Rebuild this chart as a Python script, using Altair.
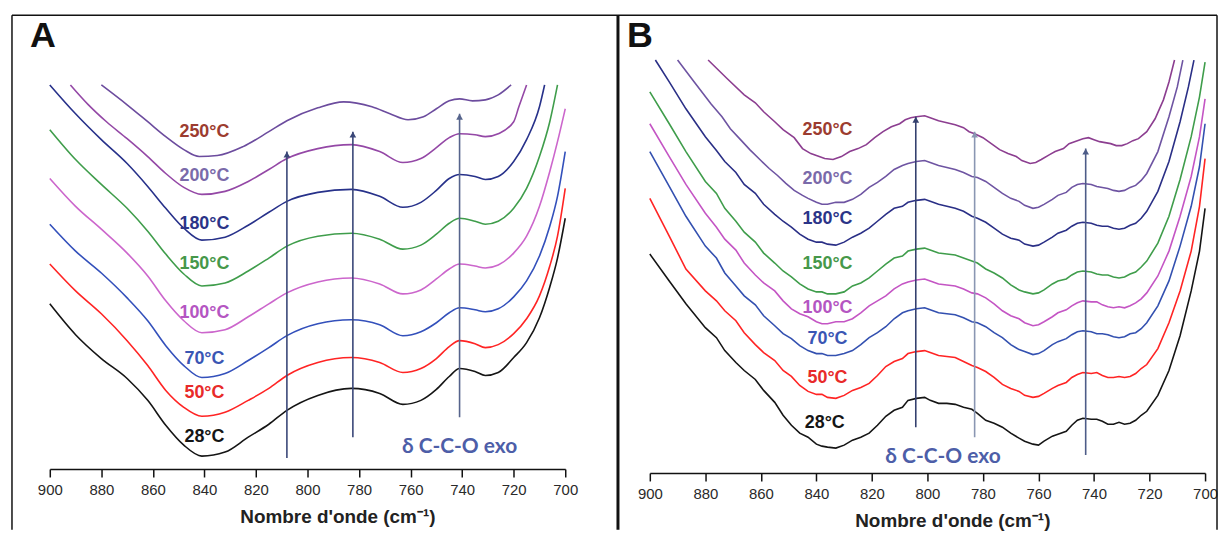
import altair as alt
import pandas as pd

# ---------------- data (wavenumber cm-1, absorbance a.u.) ----------------
temps = ["28°C", "50°C", "70°C", "100°C", "150°C", "180°C", "200°C", "250°C"]

A_line_colors = ["#151515", "#ff2424", "#3350bb", "#cc66cc", "#3f9d4b", "#27318a", "#9448a6", "#6c4c9e"]
B_line_colors = ["#151515", "#ff2424", "#3350b0", "#c455c4", "#3f9d4b", "#2a2f86", "#6e54a2", "#8c3e90"]
label_colors = ["#151515", "#e82a2a", "#3a56b4", "#b455c2", "#46984a", "#2b3488", "#7a6aaa", "#9c3c30"]

# Panel A
A_28 = [(900,1.66),(890,1.35),(880,1.11),(870,0.91),(862,0.69),(855,0.44),(848,0.24),(841,0.13),(832,0.17),(823,0.32),(815,0.45),(808,0.59),(796,0.74),(783,0.81),(772,0.76),(763,0.65),(756,0.69),(750,0.80),(745,0.93),(741,1.01),(735,0.98),(731,0.94),(726,0.97),(720,1.12),(715,1.27),(710,1.52),(706,1.83),(703,2.12),(700,2.52)]
A_50 = [(900,2.06),(890,1.79),(880,1.56),(870,1.29),(862,1.04),(855,0.79),(848,0.62),(841,0.53),(832,0.57),(823,0.69),(815,0.81),(808,0.94),(796,1.07),(783,1.12),(772,1.07),(763,0.97),(756,1.01),(750,1.11),(745,1.23),(741,1.29),(735,1.26),(731,1.22),(726,1.25),(720,1.36),(715,1.51),(710,1.74),(706,2.04),(703,2.34),(700,2.82)]
A_70 = [(900,2.46),(890,2.19),(880,1.97),(870,1.72),(862,1.49),(855,1.24),(848,1.04),(841,0.92),(832,0.96),(823,1.09),(815,1.22),(808,1.34),(796,1.46),(783,1.50),(772,1.45),(763,1.34),(756,1.38),(750,1.47),(745,1.57),(741,1.62),(735,1.60),(731,1.58),(726,1.61),(720,1.73),(715,1.89),(710,2.14),(706,2.44),(703,2.74),(700,3.19)]
A_100 = [(900,2.92),(890,2.64),(880,2.41),(870,2.17),(862,1.94),(855,1.69),(848,1.49),(841,1.37),(832,1.40),(823,1.53),(815,1.66),(808,1.77),(796,1.88),(783,1.92),(772,1.86),(763,1.76),(756,1.80),(750,1.91),(745,2.01),(741,2.06),(735,2.04),(731,2.02),(726,2.05),(720,2.17),(715,2.34),(710,2.64),(706,2.99),(703,3.29),(700,3.62)]
A_150 = [(900,3.41),(890,3.11),(880,2.86),(870,2.62),(862,2.39),(855,2.16),(848,1.96),(841,1.84),(832,1.87),(823,1.99),(815,2.12),(808,2.24),(796,2.34),(783,2.37),(772,2.31),(763,2.21),(756,2.25),(750,2.36),(745,2.47),(741,2.52),(735,2.49),(731,2.46),(726,2.49),(720,2.62),(715,2.82),(710,3.14),(706,3.49),(703,3.86)]
A_180 = [(900,3.86),(890,3.57),(880,3.31),(870,3.07),(862,2.84),(855,2.62),(848,2.42),(841,2.30),(832,2.33),(823,2.45),(815,2.58),(808,2.69),(796,2.78),(783,2.81),(772,2.74),(763,2.63),(756,2.68),(750,2.80),(745,2.92),(741,2.96),(735,2.94),(731,2.91),(726,2.94),(720,3.09),(715,3.31),(710,3.64),(708,3.86)]
A_200 = [(892,3.86),(885,3.66),(878,3.49),(870,3.32),(862,3.14),(855,2.97),(848,2.83),(841,2.76),(832,2.79),(823,2.89),(815,3.01),(808,3.12),(796,3.22),(783,3.26),(772,3.19),(763,3.08),(756,3.12),(750,3.23),(745,3.33),(741,3.37),(735,3.36),(731,3.34),(726,3.37),(720,3.49),(718,3.64),(715,3.86)]
A_250 = [(880,3.86),(870,3.66),(862,3.49),(855,3.34),(848,3.21),(842,3.14),(835,3.15),(825,3.24),(815,3.39),(808,3.50),(796,3.63),(786,3.69),(775,3.64),(768,3.57),(761,3.51),(755,3.54),(750,3.62),(745,3.70),(741,3.72),(736,3.70),(731,3.71),(726,3.76),(721,3.86)]

# Panel B (noisy spectra)
B_28 = [(900,2.20),(893,1.93),(887,1.70),(880,1.46),(876,1.36),(873,1.23),(869,1.11),(866,1.03),(862,0.94),(859,0.83),(855,0.71),(852,0.58),(849,0.48),(846,0.40),(843,0.36),(840,0.29),(838,0.27),(836,0.26),(833,0.25),(830,0.28),(827,0.33),(824,0.36),(821,0.40),(818,0.48),(815,0.57),(812,0.63),(809,0.66),(807,0.73),(804,0.75),(801,0.76),(799,0.73),(796,0.70),(793,0.70),(790,0.69),(787,0.66),(784,0.64),(782,0.60),(779,0.53),(776,0.50),(773,0.46),(770,0.40),(767,0.35),(765,0.32),(762,0.29),(760,0.28),(758,0.32),(755,0.37),(753,0.39),(750,0.42),(748,0.48),(746,0.53),(744,0.55),(741,0.54),(739,0.54),(737,0.52),(735,0.49),(733,0.49),(731,0.51),(729,0.49),(727,0.50),(725,0.53),(723,0.58),(721,0.62),(717,0.78),(713,1.03),(709,1.38),(705,1.83),(702,2.23),(700,2.66)]
B_50 = [(900,2.76),(893,2.38),(887,2.05),(880,1.83),(876,1.73),(873,1.63),(869,1.53),(866,1.41),(862,1.29),(859,1.21),(855,1.13),(852,1.03),(849,0.97),(846,0.88),(843,0.82),(840,0.79),(838,0.79),(836,0.76),(833,0.75),(830,0.78),(827,0.83),(824,0.86),(821,0.90),(818,0.98),(815,1.07),(812,1.12),(809,1.15),(807,1.20),(804,1.22),(801,1.23),(799,1.21),(796,1.18),(793,1.17),(790,1.16),(787,1.12),(784,1.08),(782,1.06),(779,1.02),(776,0.96),(773,0.89),(770,0.85),(767,0.82),(765,0.78),(762,0.76),(760,0.77),(758,0.80),(755,0.85),(753,0.88),(750,0.91),(748,0.96),(746,0.99),(744,1.01),(741,1.00),(739,1.01),(737,0.98),(735,0.96),(733,0.96),(731,0.97),(729,0.96),(727,0.97),(725,1.00),(723,1.05),(721,1.09),(717,1.25),(713,1.51),(709,1.83),(705,2.23),(702,2.68),(700,3.16)]
B_70 = [(900,3.23),(893,2.88),(887,2.58),(880,2.28),(876,2.16),(873,2.01),(869,1.88),(866,1.78),(862,1.69),(859,1.58),(855,1.48),(852,1.40),(849,1.35),(846,1.28),(843,1.23),(840,1.20),(838,1.20),(836,1.18),(833,1.18),(830,1.20),(827,1.23),(824,1.29),(821,1.36),(818,1.41),(815,1.47),(812,1.55),(809,1.61),(807,1.63),(804,1.65),(801,1.66),(799,1.64),(796,1.61),(793,1.60),(790,1.59),(787,1.56),(784,1.52),(782,1.51),(779,1.47),(776,1.41),(773,1.36),(770,1.29),(767,1.24),(765,1.22),(762,1.19),(760,1.20),(758,1.23),(755,1.29),(753,1.32),(750,1.35),(748,1.39),(746,1.42),(744,1.43),(741,1.42),(739,1.40),(737,1.40),(735,1.39),(733,1.37),(731,1.36),(729,1.37),(727,1.40),(725,1.41),(723,1.45),(721,1.51),(717,1.68),(713,1.93),(709,2.28),(705,2.68),(702,3.08),(700,3.51)]
B_100 = [(900,3.51),(893,3.18),(887,2.90),(880,2.61),(876,2.47),(873,2.35),(869,2.24),(866,2.11),(862,1.99),(859,1.91),(855,1.83),(852,1.73),(849,1.65),(846,1.60),(843,1.57),(840,1.52),(838,1.50),(836,1.50),(833,1.52),(830,1.52),(827,1.55),(824,1.61),(821,1.68),(818,1.73),(815,1.78),(812,1.85),(809,1.90),(807,1.92),(804,1.94),(801,1.95),(799,1.93),(796,1.90),(793,1.89),(790,1.88),(787,1.85),(784,1.81),(782,1.80),(779,1.76),(776,1.70),(773,1.63),(770,1.58),(767,1.55),(765,1.51),(762,1.48),(760,1.49),(758,1.52),(755,1.57),(753,1.61),(750,1.64),(748,1.68),(746,1.71),(744,1.73),(741,1.72),(739,1.72),(737,1.69),(735,1.67),(733,1.66),(731,1.67),(729,1.66),(727,1.68),(725,1.71),(723,1.75),(721,1.81),(717,1.98),(713,2.23),(709,2.58),(705,2.98),(702,3.38),(700,3.76)]
B_150 = [(900,3.83),(893,3.51),(887,3.23),(880,2.93),(876,2.81),(873,2.66),(869,2.53),(866,2.42),(862,2.32),(859,2.21),(855,2.11),(852,2.03),(849,1.97),(846,1.90),(843,1.85),(840,1.82),(838,1.82),(836,1.80),(833,1.80),(830,1.82),(827,1.88),(824,1.91),(821,1.96),(818,2.03),(815,2.10),(812,2.16),(809,2.18),(807,2.23),(804,2.25),(801,2.26),(799,2.24),(796,2.21),(793,2.20),(790,2.19),(787,2.16),(784,2.13),(782,2.11),(779,2.05),(776,2.01),(773,1.96),(770,1.89),(767,1.84),(765,1.82),(762,1.80),(760,1.81),(758,1.84),(755,1.90),(753,1.93),(750,1.95),(748,1.99),(746,2.02),(744,2.03),(741,2.02),(739,2.00),(737,1.99),(735,1.99),(733,1.97),(731,1.96),(729,1.97),(727,2.00),(725,2.02),(723,2.07),(721,2.13),(717,2.31),(713,2.58),(709,2.95),(705,3.38),(702,3.78),(700,4.13)]
B_180 = [(898,4.15),(893,3.93),(887,3.66),(880,3.38),(876,3.24),(873,3.13),(869,3.02),(866,2.90),(862,2.81),(859,2.70),(855,2.60),(852,2.53),(849,2.47),(846,2.40),(843,2.35),(840,2.32),(838,2.32),(836,2.30),(833,2.29),(830,2.32),(827,2.37),(824,2.41),(821,2.46),(818,2.53),(815,2.60),(812,2.66),(809,2.68),(807,2.72),(804,2.74),(801,2.75),(799,2.73),(796,2.70),(793,2.68),(790,2.66),(787,2.63),(784,2.58),(782,2.56),(779,2.52),(776,2.46),(773,2.40),(770,2.36),(767,2.34),(765,2.30),(762,2.28),(760,2.29),(758,2.32),(755,2.37),(753,2.41),(750,2.44),(748,2.48),(746,2.51),(744,2.52),(741,2.51),(739,2.49),(737,2.48),(735,2.48),(733,2.46),(731,2.45),(729,2.46),(727,2.49),(725,2.51),(723,2.56),(721,2.63),(717,2.83),(713,3.13),(709,3.53),(706,3.88),(704,4.15)]
B_200 = [(890,4.15),(884,3.93),(878,3.71),(874,3.58),(871,3.46),(867,3.34),(864,3.25),(860,3.14),(857,3.06),(854,2.99),(851,2.91),(848,2.84),(845,2.79),(843,2.76),(840,2.72),(838,2.70),(836,2.70),(833,2.72),(830,2.72),(827,2.75),(824,2.80),(821,2.87),(818,2.92),(815,2.98),(812,3.05),(809,3.09),(807,3.11),(804,3.13),(801,3.14),(799,3.12),(796,3.09),(793,3.07),(790,3.05),(787,3.02),(784,2.98),(782,2.97),(779,2.93),(776,2.87),(773,2.81),(770,2.76),(767,2.73),(765,2.69),(762,2.66),(760,2.67),(758,2.70),(755,2.75),(753,2.79),(750,2.82),(748,2.87),(746,2.90),(744,2.91),(741,2.90),(739,2.88),(737,2.87),(735,2.86),(733,2.84),(731,2.83),(729,2.84),(727,2.87),(725,2.89),(723,2.94),(721,3.01),(717,3.23),(713,3.58),(710,3.88),(708,4.15)]
B_250 = [(879,4.15),(872,3.96),(866,3.80),(862,3.72),(859,3.63),(855,3.53),(852,3.45),(848,3.37),(845,3.26),(842,3.21),(840,3.19),(837,3.16),(834,3.15),(831,3.18),(828,3.23),(825,3.26),(822,3.30),(819,3.37),(816,3.43),(813,3.48),(810,3.51),(808,3.55),(806,3.57),(804,3.58),(801,3.59),(799,3.57),(796,3.54),(793,3.52),(790,3.50),(787,3.47),(785,3.43),(783,3.41),(780,3.37),(777,3.31),(774,3.25),(771,3.21),(768,3.18),(766,3.14),(763,3.11),(761,3.12),(759,3.15),(756,3.20),(754,3.23),(751,3.26),(749,3.31),(746,3.34),(744,3.36),(742,3.37),(740,3.35),(738,3.33),(736,3.32),(734,3.31),(732,3.29),(730,3.29),(728,3.31),(726,3.34),(724,3.36),(721,3.43),(718,3.56),(715,3.75),(713,3.93),(711,4.15)]

A_series = [A_28, A_50, A_70, A_100, A_150, A_180, A_200, A_250]
B_series = [B_28, B_50, B_70, B_100, B_150, B_180, B_200, B_250]

# temperature label anchors (wavenumber, absorbance)
A_label_wn = [840, 840, 840, 840, 840, 840, 840, 840]
A_label_v = [0.32, 0.76, 1.11, 1.57, 2.06, 2.46, 2.94, 3.39]
B_label_wn = [837, 836, 836, 836, 836, 836, 836, 836]
B_label_v = [0.50, 0.95, 1.35, 1.66, 2.10, 2.55, 2.95, 3.45]

# arrows (wavenumber, start, end)
A_arrow_wn = [808, 782.4, 741]
A_arrow_from = [0.11, 0.32, 0.52]
A_arrow_to = [3.19, 3.39, 3.57]
A_arrow_col = ["#3a4778", "#3a4778", "#56648c"]
B_arrow_wn = [804.2, 783, 743]
B_arrow_from = [0.46, 0.36, 0.18]
B_arrow_to = [3.58, 3.43, 3.26]
B_arrow_col = ["#34406e", "#8a96b2", "#4d5c88"]

# band annotation
A_band = (741, 0.22)
B_band = (794.4, 0.16)
band_text = "δ C-C-O exo"

tick_values = list(range(700, 901, 10))
FONT = "Liberation Sans"


def lines_df(series, colors):
    rows = []
    for t, pts, c in zip(temps, series, colors):
        for wn, v in pts:
            rows.append({"temp": t, "wn": wn, "v": v, "col": c})
    return pd.DataFrame(rows)


def panel(series, line_colors, interp, lab_wn, lab_v, ar_wn, ar_from, ar_to, ar_col,
          band, ymax, width, height, letter, letter_x, frame, title_x):
    xs = alt.Scale(domain=[900, 700], nice=False, zero=False)
    ys = alt.Scale(domain=[0, ymax], nice=False, zero=False)
    xaxis = alt.Axis(
        values=tick_values,
        labelExpr="datum.value % 20 == 0 ? datum.label : ''",
        tickSize={"condition": {"test": "datum.value % 20 == 0", "value": 8}, "value": 4},
        grid=False, domainColor="#111", domainWidth=1.6, tickColor="#111", tickWidth=1.5,
        labelFont=FONT, labelFontSize=15, labelColor="#2a2a2a", labelPadding=6,
        labelFlush=False, labelOverlap=False,
        title="Nombre d'onde (cm⁻¹)", titleFont=FONT, titleFontSize=19,
        titleFontWeight="bold", titleColor="#222", titlePadding=10,
        titleX=title_x, titleAlign="center",
    )
    X = alt.X("wn:Q", scale=xs, axis=xaxis)
    Y = alt.Y("v:Q", scale=ys, axis=None)

    dfl = lines_df(series, line_colors)
    lines = alt.Chart(dfl).mark_line(strokeWidth=1.6, interpolate=interp).encode(
        x=X, y=Y, color=alt.Color("col:N", scale=None), detail="temp:N")

    dlab = pd.DataFrame({"wn": lab_wn, "v": lab_v, "t": temps, "c": label_colors})
    labels = alt.Chart(dlab).mark_text(font=FONT, fontSize=18, fontWeight="bold").encode(
        x=alt.X("wn:Q", scale=xs), y=alt.Y("v:Q", scale=ys),
        text="t:N", color=alt.Color("c:N", scale=None))

    dar = pd.DataFrame({"wn": ar_wn, "v": ar_from, "v2": ar_to, "c": ar_col})
    rules = alt.Chart(dar).mark_rule(strokeWidth=1.6).encode(
        x=alt.X("wn:Q", scale=xs), y=alt.Y("v:Q", scale=ys), y2="v2:Q",
        color=alt.Color("c:N", scale=None))
    heads = alt.Chart(dar).mark_point(shape="triangle-up", filled=True, size=45,
                                      opacity=1, yOffset=3).encode(
        x=alt.X("wn:Q", scale=xs), y=alt.Y("v2:Q", scale=ys),
        color=alt.Color("c:N", scale=None))

    dband = pd.DataFrame({"wn": [band[0]], "v": [band[1]], "t": [band_text]})
    bandtxt = alt.Chart(dband).mark_text(font="Lato", fontSize=21, fontWeight="bold",
                                         color="#4d5ea8").encode(
        x=alt.X("wn:Q", scale=xs), y=alt.Y("v:Q", scale=ys), text="t:N")

    one = pd.DataFrame({"k": [0]})
    deco = []
    for (x1, y1, x2, y2, sw) in frame:
        deco.append(alt.Chart(one).mark_rule(color="#111", strokeWidth=sw).encode(
            x=alt.value(x1), y=alt.value(y1), x2=alt.value(x2), y2=alt.value(y2)))
    let = alt.Chart(one).mark_text(text=letter, font=FONT, fontSize=36, fontWeight="bold",
                                   align="left", baseline="alphabetic", color="#111").encode(
        x=alt.value(letter_x), y=alt.value(-13))

    return alt.layer(*deco, lines, rules, heads, labels, bandtxt, let).properties(
        width=width, height=height)


frameA = [(-38, -45, -38, 472, 1.5), (-38, -45, 571, -45, 1.5), (571, -45, 571, 472, 3)]
frameB = [(-32, -45, 570, -45, 1.5), (570, -45, 570, 472, 1.5)]

pA = panel(A_series, A_line_colors, "monotone", A_label_wn, A_label_v, A_arrow_wn,
           A_arrow_from, A_arrow_to, A_arrow_col, A_band, 4.11, 518, 411, "A", -20,
           frameA, 289)
pB = panel(B_series, B_line_colors, "linear", B_label_wn, B_label_v, B_arrow_wn,
           B_arrow_from, B_arrow_to, B_arrow_col, B_band, 4.15, 558, 415, "B", -23,
           frameB, 304)

chart = alt.hconcat(pA, pB, spacing=85, bounds="flush",
                    padding={"left": 3, "top": 4, "right": 0, "bottom": 0},
                    background="white").configure_view(stroke=None)

chart.save("out.html", embed_options={"renderer": "svg", "actions": False})
